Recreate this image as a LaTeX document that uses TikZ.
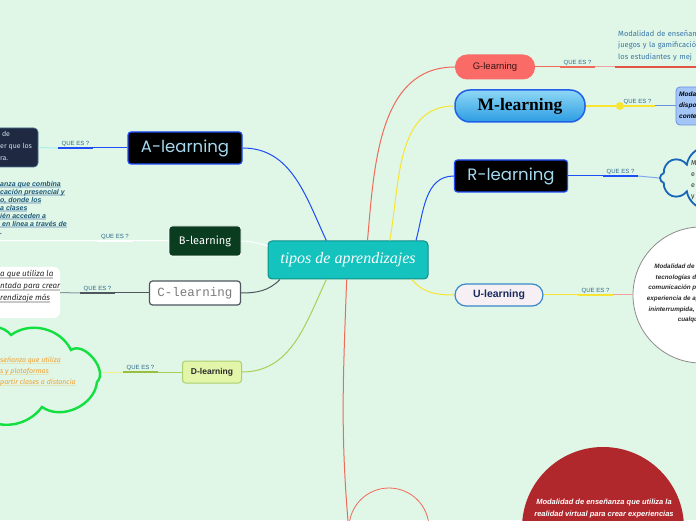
\documentclass[tikz,border=0pt]{standalone}
\usepackage{fontspec}
\setmainfont{Liberation Sans}
\setmonofont{Liberation Mono}
\newfontfamily\geofont{Poppins}
\newfontfamily\handfont{Fira Sans}
\newfontfamily\seriffont{Liberation Serif}
\usetikzlibrary{positioning,shapes.symbols}

\definecolor{bgc}{HTML}{E0F6E7}
\definecolor{rootc}{HTML}{14C3BD}
\definecolor{rootd}{HTML}{0F8F8A}
\definecolor{blu}{HTML}{1E4EF5}
\definecolor{lbl}{HTML}{A6D8EE}
\definecolor{bgreen}{HTML}{0A3D1F}
\definecolor{cgray}{HTML}{4E575E}
\definecolor{cthin}{HTML}{8A96A0}
\definecolor{ctext}{HTML}{7A7A7A}
\definecolor{dfill}{HTML}{E2F5A8}
\definecolor{dline}{HTML}{ACD070}
\definecolor{dgreen}{HTML}{A8D058}
\definecolor{dbar}{HTML}{98C040}
\definecolor{dthin}{HTML}{EEF28A}
\definecolor{cgreen}{HTML}{12E040}
\definecolor{gfill}{HTML}{FA6A66}
\definecolor{gtext}{HTML}{3A1515}
\definecolor{gred}{HTML}{F06A5A}
\definecolor{gpink}{HTML}{F2A0A0}
\definecolor{gunder}{HTML}{E25544}
\definecolor{gblue}{HTML}{3A78A8}
\definecolor{mtop}{HTML}{8ED8F6}
\definecolor{mbot}{HTML}{2C9CE2}
\definecolor{mline}{HTML}{2060E8}
\definecolor{ylw}{HTML}{F8E432}
\definecolor{mbox}{HTML}{A4C6F6}
\definecolor{mboxd}{HTML}{6892E0}
\definecolor{rblue}{HTML}{1866B8}
\definecolor{rthin}{HTML}{7FA8F0}
\definecolor{ufill}{HTML}{F6F0F4}
\definecolor{uline}{HTML}{3A88C8}
\definecolor{utext}{HTML}{1A2A5E}
\definecolor{ugray}{HTML}{8C8C8C}
\definecolor{vred}{HTML}{B0282C}
\definecolor{navy}{HTML}{1F2942}
\definecolor{navyb}{HTML}{4A7090}
\definecolor{navyt}{HTML}{CFE3EA}
\definecolor{acyan}{HTML}{A8F0F0}
\definecolor{qtext}{HTML}{2E6A8A}
\definecolor{tealt}{HTML}{1D5A78}
\definecolor{hlb}{HTML}{B0CCD4}
\definecolor{dark}{HTML}{2A2A2A}
\definecolor{hlc}{HTML}{C8C8C8}
\definecolor{orng}{HTML}{F0A030}
\definecolor{hld}{HTML}{E2E6B8}

\newcommand{\ulbar}[2]{\setbox0\hbox{#2}\rlap{\color{#1}\rule[-1.6pt]{\wd0}{1.6pt}}\box0}

\begin{document}
\begin{tikzpicture}[
  x=1pt, y=1pt,
  topic/.style={rounded corners=3pt, align=center, inner sep=0pt},
  link/.style={line width=1pt},
  bar/.style={line width=2.6pt},
  qes/.style={font=\fontsize{6}{7}\selectfont, text=qtext, minimum width=35pt, inner sep=1.5pt, anchor=south},
  desc/.style={align=left, inner sep=0pt, anchor=north west}
]
  \useasboundingbox (0,0) rectangle (696,520);
  \fill[bgc] (0,0) rectangle (696,520);
  \clip (0,0) rectangle (696,520);

  % central topic and branches
  \node[topic, rounded corners=4pt, fill=rootc, draw=rootd, line width=1pt, minimum width=160pt, minimum height=38pt, text=white, font=\seriffont\itshape\fontsize{16}{18}\selectfont] (root) at (348,260) {tipos de aprendizajes};

  \node[topic, fill=black, draw=blu, line width=1.2pt, minimum width=114pt, minimum height=32pt, text=lbl, font=\geofont\fontsize{16.5}{18}\selectfont] (al) at (185,372) {A-learning};
  \node[topic, fill=bgreen, draw=white, line width=0.8pt, minimum width=72pt, minimum height=30pt, text=white, font=\handfont\fontsize{11}{13}\selectfont] (bl) at (205,279) {B-learning};
  \node[topic, fill=white, draw=cgray, line width=1.2pt, minimum width=91pt, minimum height=24pt, text=ctext, font=\ttfamily\fontsize{12.5}{14}\selectfont] (cl) at (195,227) {C-learning};
  \node[topic, fill=dfill, draw=dline, line width=1pt, minimum width=59pt, minimum height=22pt, text=dark, font=\bfseries\fontsize{8.5}{10}\selectfont] (dl) at (212,148) {D-learning};
  \node[topic, rounded corners=12pt, fill=gfill, minimum width=80pt, minimum height=25pt, text=gtext, font=\fontsize{9.5}{11}\selectfont] (gl) at (495,453) {G-learning};
  \node[topic, rounded corners=15pt, top color=mtop, bottom color=mbot, draw=mline, line width=1.5pt, minimum width=130pt, minimum height=32pt, font=\seriffont\bfseries\fontsize{17.5}{19}\selectfont] (ml) at (520,414) {M-learning};
  \node[topic, fill=black, draw=blu, line width=1.2pt, minimum width=113pt, minimum height=32pt, text=lbl, font=\geofont\fontsize{16.5}{18}\selectfont] (rl) at (511,344) {R-learning};
  \node[topic, rounded corners=11pt, fill=ufill, draw=uline, line width=1.2pt, minimum width=88pt, minimum height=22pt, text=utext, font=\bfseries\fontsize{10.5}{12}\selectfont] (ul) at (499,225) {U-learning};
  \node[circle, draw=gred, line width=0.8pt, minimum size=80pt] (vl) at (389,-8) {};

  % descriptions
  \node[fill=navy, draw=navyb, line width=0.6pt, rounded corners=4pt, minimum width=48pt, minimum height=39pt] (da) at (14,372.5) {};
  \node[desc, text=navyt, font=\handfont\fontsize{7}{12}\selectfont] (ta) at (0,389) {\ de\\er que los\\ra.};
  \node[desc, text=tealt, font=\bfseries\itshape\fontsize{7}{8}\selectfont] (tb) at (0,339) {\ulbar{hlb}{anza que combina}\\\ulbar{hlb}{cación presencial y}\\\ulbar{hlb}{o, donde los}\\\ulbar{hlb}{a clases}\\\ulbar{hlb}{ién acceden a}\\\ulbar{hlb}{ en línea a través de}\\.};
  \coordinate (bend) at (0,279);
  \node[fill=white, rounded corners=6pt, minimum width=70pt, minimum height=51pt] (dc) at (25,227.5) {};
  \node[desc, text=dark, font=\handfont\itshape\fontsize{8}{12}\selectfont] (tc) at (0,249.5) {\ulbar{hlc}{a que utiliza la}\\\ulbar{hlc}{ntada para crear}\\\ulbar{hlc}{rendizaje más}};
  \draw[cgreen, line width=2.4pt] (-20,188) to[bend left=45] (11,185) to[bend left=50] (71,170)
    to[bend left=85] (97,138) to[bend left=60] (42,113) to[bend left=45] (-20,104);
  \coordinate (dd) at (103,148);
  \node[desc, text=orng, font=\handfont\itshape\fontsize{7}{11}\selectfont] (td) at (0,163) {\ulbar{hld}{señanza que utiliza}\\\ulbar{hld}{s y plataformas}\\\ulbar{hld}{partir clases a distancia}};
  \node[anchor=south west, align=left, text width=85pt, inner xsep=3pt, inner ysep=6pt, text=gblue, font=\handfont\fontsize{7.5}{11.5}\selectfont] (dg) at (615,453) {Modalidad de enseñan\\juegos y la gamificació\\los estudiantes y mej};
  \node[fill=mbox, draw=mboxd, line width=0.8pt, rounded corners=4pt, minimum width=50pt, minimum height=38pt] (dm) at (701,414) {};
  \node[desc, font=\bfseries\itshape\fontsize{6.5}{11}\selectfont] (tm) at (679,428) {Moda\\dispo\\conte};
  \node[cloud, cloud puffs=12, cloud ignores aspect, draw=rblue, line width=1.8pt, minimum width=180pt, minimum height=72pt] (dr) at (750,342) {};
  \node[desc, text=dark, font=\handfont\fontsize{7}{11}\selectfont] (tr) at (691,360) {M\\e\\e\\y};
  \node[circle, fill=white, draw=ugray, line width=0.8pt, minimum size=136pt] (du) at (701,225) {};
  \node[anchor=north east, align=right, inner sep=0pt, text=dark, font=\bfseries\itshape\fontsize{6.3}{10.6}\selectfont] (tu) at (700,256) {Modalidad de e\\tecnologías de\\comunicación pa\\experiencia de ap\\ininterrumpida, a\\cualqui};
  \node[circle, fill=vred, minimum size=162pt] (vd) at (603,-8) {};
  \node[align=center, text=white, font=\bfseries\itshape\fontsize{7.5}{12}\selectfont] (vt) at (604,11) {Modalidad de enseñanza que utiliza la\\realidad virtual para crear experiencias};

  % QUE ES ? labels
  \node[qes] (qa) at (75.5,372) {QUE ES ?};
  \node[qes] (qb) at (115,279) {QUE ES ?};
  \node[qes] (qc) at (97.5,227) {QUE ES ?};
  \node[qes] (qd) at (140.5,148) {QUE ES ?};
  \node[qes] (qg) at (577.5,453) {QUE ES ?};
  \node[qes] (qm) at (637.5,414) {QUE ES ?};
  \node[qes] (qr) at (620.5,344) {QUE ES ?};
  \node[qes] (qu) at (595.5,225) {QUE ES ?};

  % branches from the centre
  \draw[link, blu] (root.138) to[out=115,in=0] (al.east);
  \draw[link, white] (root.170) to[out=165,in=0] (bl.east);
  \draw[link, cgray] (root.196) to[out=225,in=0] (cl.east);
  \draw[link, dgreen] (root.222) to[out=245,in=0] (dl.east);
  \draw[link, gred] (root.45) to[out=85,in=180] (gl.west);
  \draw[link, gred] (root.266) to[out=268,in=95] (vl.west);
  \draw[link, ylw] (root.25) to[out=80,in=180] (ml.west);
  \draw[link, blu] (root.16) to[out=75,in=180] (rl.west);
  \draw[link, ylw] (root.343) to[out=-50,in=180] (ul.west);

  % links to descriptions
  \draw[link, blu] (al.west) -- (qa.south east);
  \draw[bar, blu] (qa.south west) -- (qa.south east);
  \draw[link, acyan] (qa.south west) -- (da.east);
  \draw[link, white] (bl.west) -- (qb.south east);
  \draw[bar, white] (qb.south west) -- (qb.south east);
  \draw[link, white] (qb.south west) -- (bend);
  \draw[link, cgray] (cl.west) -- (qc.south east);
  \draw[bar, cgray] (qc.south west) -- (qc.south east);
  \draw[link, cthin] (qc.south west) -- (dc.east);
  \draw[link, dgreen] (dl.west) -- (qd.south east);
  \draw[bar, dbar] (qd.south west) -- (qd.south east);
  \draw[link, dthin] (qd.south west) -- (dd);
  \draw[link, gred] (gl.east) -- (qg.south west);
  \draw[bar, gred] (qg.south west) -- (qg.south east);
  \draw[link, gpink] (qg.south east) -- (dg.south west);
  \draw[bar, gunder] (dg.south west) -- (dg.south east);
  \draw[line width=2pt, ylw] (ml.east) -- (qm.south west);
  \fill[ylw] (qm.south west) circle (4);
  \draw[bar, ylw] (qm.south west) -- (qm.south east);
  \draw[link, mboxd] (qm.south east) -- (dm.west);
  \draw[link, blu] (rl.east) -- (qr.south west);
  \draw[bar, blu] (qr.south west) -- (qr.south east);
  \draw[link, rthin] (qr.south east) -- (dr.west);
  \draw[link, ylw] (ul.east) -- (qu.south west);
  \draw[bar, ylw] (qu.south west) -- (qu.south east);
  \draw[link, gpink] (qu.south east) -- (du.west);
\end{tikzpicture}
\end{document}
